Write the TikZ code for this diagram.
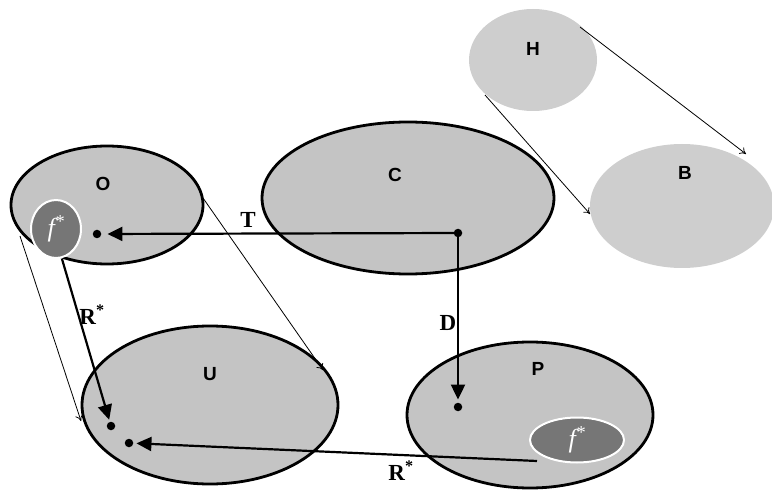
\documentclass[tikz,border=0pt]{standalone}
\usepackage{fontspec}
\setmainfont{Liberation Serif}
\setsansfont{Liberation Sans}
\usetikzlibrary{shapes.geometric,arrows.meta}
\definecolor{setgray}{RGB}{196,196,196}
\definecolor{palegray}{RGB}{206,206,206}
\definecolor{fgray}{RGB}{118,118,118}
\begin{document}
\begin{tikzpicture}[x=1pt,y=-1pt,
  setnode/.style={ellipse, draw=black, line width=2.8pt, fill=setgray, inner sep=0pt},
  palenode/.style={ellipse, fill=palegray, inner sep=0pt},
  fnode/.style={ellipse, draw=white, line width=2pt, fill=fgray, inner sep=0pt, text=white, font=\fontsize{26}{28}\selectfont\itshape},
  setlbl/.style={font=\fontsize{19}{21}\selectfont\sffamily\bfseries},
  maplbl/.style={font=\fontsize{23}{25}\selectfont\bfseries},
  dotnode/.style={circle, fill=black, inner sep=0pt, minimum size=8.5pt},
  boldarrow/.style={line width=2.2pt, -{Triangle[length=15pt,width=14pt]}},
  thinarrow/.style={line width=0.8pt, -{To[length=6pt,width=8pt]}}
]
\useasboundingbox (0,0) rectangle (772,492);

% sets
\node[setnode, minimum width=192pt, minimum height=118pt] (O) at (107,205) {};
\node[setnode, minimum width=292pt, minimum height=152pt] (C) at (408,198) {};
\node[setnode, minimum width=256pt, minimum height=158pt] (U) at (210,405) {};
\node[setnode, minimum width=246pt, minimum height=146pt] (P) at (530,415) {};
\node[palenode, minimum width=128pt, minimum height=102pt] (H) at (533,60) {};
\node[palenode, minimum width=184pt, minimum height=124pt] (B) at (682,206) {};

% labels
\node[setlbl] (Ol) at (103,184) {O};
\node[setlbl] (Cl) at (395,175) {C};
\node[setlbl] (Hl) at (533,49) {H};
\node[setlbl] (Bl) at (685,173) {B};
\node[setlbl] (Ul) at (210,374) {U};
\node[setlbl] (Pl) at (538,369) {P};

% f* regions
\node[fnode, minimum width=50pt, minimum height=58pt] (fO) at (56,229) {f\textsuperscript{*}};
\node[fnode, minimum width=94pt, minimum height=45pt] (fP) at (577,440) {f\textsuperscript{*}};

% dots
\node[dotnode] (odot) at (97,234) {};
\node[dotnode] (cdot) at (458,233) {};
\node[dotnode] (pdot) at (458,407) {};
\node[dotnode] (udotA) at (111,426) {};
\node[dotnode] (udotB) at (129,443) {};

% thin mapping arrows
\coordinate (oL) at (20,236);
\coordinate (uL) at (81,421);
\coordinate (oR) at (203,198);
\coordinate (uR) at (323,370);
\coordinate (hR) at (580,27);
\coordinate (bT) at (746,154);
\coordinate (hL) at (485,95);
\coordinate (bL) at (590,214);
\draw[thinarrow] (oL) -- (uL);
\draw[thinarrow] (oR) -- (uR);
\draw[thinarrow] (hR) -- (bT);
\draw[thinarrow] (hL) -- (bL);

% bold arrows
\coordinate (fOs) at (62,259);
\coordinate (fPs) at (537,461);
\draw[boldarrow, shorten >=6pt] (cdot.center) -- (odot);
\draw[boldarrow, shorten >=3pt] (cdot.center) -- (pdot);
\draw[boldarrow, shorten >=2pt] (fOs) -- (udotA);
\draw[boldarrow, shorten >=3pt] (fPs) -- (udotB);

% arrow labels
\node[maplbl] (Tl) at (248,220) {T};
\node[maplbl] (Dl) at (448,323) {D};
\node[maplbl] (Rl1) at (92,315) {R\textsuperscript{*}};
\node[maplbl] (Rl2) at (401,471) {R\textsuperscript{*}};
\end{tikzpicture}
\end{document}
